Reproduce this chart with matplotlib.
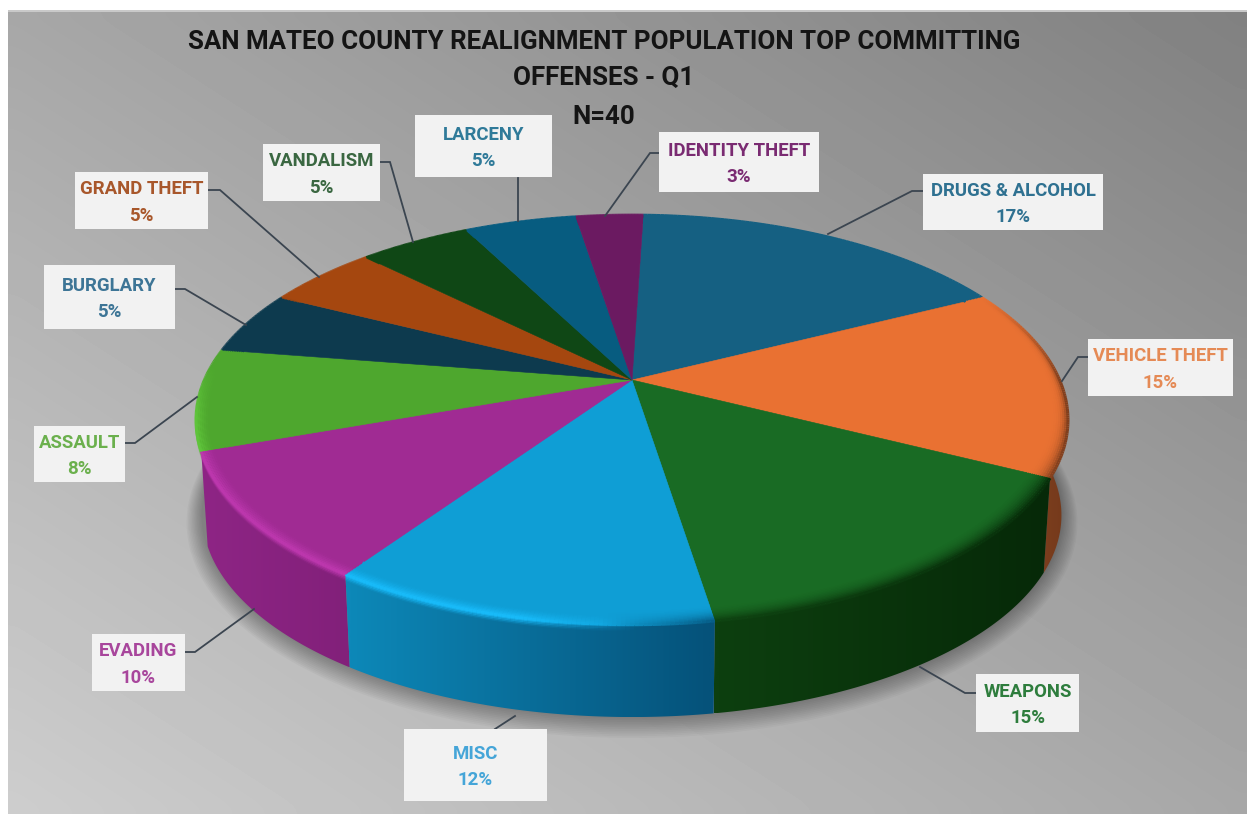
import numpy as np
import matplotlib
matplotlib.use("Agg")
import matplotlib.pyplot as plt
from matplotlib.collections import LineCollection
from matplotlib.colors import to_rgb
from matplotlib.patches import Polygon, Rectangle

# Offence shares, clockwise from twelve o'clock
offenses = ["DRUGS & ALCOHOL", "VEHICLE THEFT", "WEAPONS", "MISC", "EVADING", "ASSAULT",
            "BURGLARY", "GRAND THEFT", "VANDALISM", "LARCENY", "IDENTITY THEFT"]
percents = [17, 15, 15, 12, 10, 8, 5, 5, 5, 5, 3]
title_lines = ["SAN MATEO COUNTY REALIGNMENT POPULATION TOP COMMITTING", "OFFENSES - Q1", "N=40"]

top_colors = ["#156082", "#E97132", "#196B24", "#0F9ED5", "#A02B93", "#4EA72E",
              "#0D3A4E", "#A5470F", "#0F4715", "#075C80", "#6B1A61"]
side_start = ["#0d3a4e", "#8f4a24", "#0d3f0f", "#0d88b8", "#8e2585", "#3f8f24",
              "#0a2c3c", "#7a3a10", "#0b3510", "#054560", "#501449"]
side_end = ["#0d3a4e", "#74391b", "#062908", "#05527a", "#82207a", "#3f8f24",
            "#0a2c3c", "#7a3a10", "#0b3510", "#054560", "#501449"]
text_colors = ["#2f7191", "#e58a55", "#2e7d3d", "#45a5d8", "#a8469c", "#6bb04d",
               "#3d7596", "#a8572b", "#3a6741", "#2f7a99", "#7a2b72"]

# Callout boxes (left, top, right, bottom) and their leader polylines, in pixels
boxes = [(923, 174, 1103, 230), (1088, 339, 1233, 396), (976, 674, 1079, 732), (404, 729, 547, 801),
         (92, 634, 185, 691), (34, 426, 125, 482), (44, 265, 175, 329), (75, 172, 208, 229),
         (263, 144, 380, 201), (415, 115, 552, 177), (659, 132, 819, 192)]
leaders = [[(923, 191), (912, 191), (828, 234)], [(1088, 357), (1078, 357), (1062, 381)],
           [(976, 693), (965, 693), (920, 667)], [(495, 729), (515, 716)],
           [(185, 652), (195, 652), (254, 609)], [(125, 443), (135, 443), (197, 397)],
           [(175, 289), (185, 289), (246, 325)], [(208, 190), (220, 190), (319, 277)],
           [(380, 162), (390, 162), (413, 242)], [(518, 178), (518, 221)],
           [(659, 153), (650, 153), (605, 216)]]

W, H = 1247, 814
CX, CY = 632.0, 380.0
A, B, K = 427.6, 197.0, 0.195   # perspective disc: half width, half height, foreshortening
SHRINK, DROP = 0.985, 96.0      # lower rim relative to the upper rim
TURN = np.radians(1.8)          # first slice starts a touch past vertical
FONT = "Roboto"

fig = plt.figure(figsize=(W / 100, H / 100), dpi=100, facecolor="white")
ax = fig.add_axes([0, 0, 1, 1])
ax.set_axis_off()


def upper(theta, r=1.0):
    u, v = r * np.sin(theta), r * np.cos(theta)
    d = 1 + K * v
    return CX + A * u / d, CY - B * v / d


def lower(theta):
    x, y = upper(theta)
    return CX + SHRINK * (x - CX), CY + DROP + SHRINK * (y - CY)


def mix(a, b, t):
    return np.asarray(a) * (1 - t) + np.asarray(b) * t


# Diagonal grey backdrop, lightest at the lower left
yy, xx = np.mgrid[0:1:60j, 0:1:90j]
shade = (205 - 38 * xx - 38 * (1 - yy)) / 255
ax.imshow(shade, cmap="gray", vmin=0, vmax=1, extent=(8, W, H, 11), origin="upper",
          aspect="auto", interpolation="bicubic", zorder=0)
ax.add_patch(Rectangle((8, 10), W - 8, 1.5, fc="#c9c9c9", ec="none", zorder=0.5))

# Cumulative slice angles
edges = np.radians(np.cumsum([0] + percents) * 3.6) + TURN
mids = (edges[:-1] + edges[1:]) / 2
ring = np.linspace(0, 2 * np.pi, 400)

# Soft contact shadow built from stacked translucent outlines of the lower rim
bx, by = lower(ring)
for grow in np.linspace(16, 1, 12):
    sx = (bx - CX) * (1 + grow / 430) + CX
    sy = (by - (CY + DROP)) * (1 + grow / 240) + CY + DROP + grow * 0.3
    ax.fill(sx, sy, color="black", alpha=0.028, lw=0, zorder=1)

# Outer wall of every slice with a horizontal colour ramp, nearest slices painted last.
# Slices on the far left turn away from the viewer, so they get no wall.
order = np.argsort(-np.cos(mids))
for rank, i in enumerate(order):
    if np.sin(mids[i]) < 0 and np.cos(mids[i]) > -0.2:
        continue
    t = np.linspace(edges[i], edges[i + 1], 80)
    tx, ty = upper(t)
    lx, ly = lower(t)
    pts = np.r_[np.c_[tx, ty], np.c_[lx, ly][::-1]]
    wall = Polygon(pts, closed=True, fc="none", ec="none")
    ax.add_patch(wall)
    ramp = np.linspace(0, 1, 32)[None, :, None]
    rgb = mix(to_rgb(side_start[i]), to_rgb(side_end[i]), ramp)
    img = ax.imshow(rgb, extent=(pts[:, 0].min(), pts[:, 0].max(), pts[:, 1].max(), pts[:, 1].min()),
                    aspect="auto", interpolation="bilinear", zorder=2 + rank * 0.01)
    img.set_clip_path(wall)

# Upper faces
for i, col in enumerate(top_colors):
    t = np.linspace(edges[i], edges[i + 1], 80)
    tx, ty = upper(t)
    ax.add_patch(Polygon(np.r_[[[CX, CY]], np.c_[tx, ty]], closed=True, fc=col, ec=col, lw=0.4, zorder=3))


def light_weight(x, v):
    front = np.clip(-v / 0.25 + 0.3, 0, 1)
    return front * np.clip((640 - x) / 120, 0, 1)


def dark_weight(x, v):
    front = np.clip((0.45 - v) / 0.45, 0, 1)
    return front * np.clip((x - 600) / 120, 0, 1)


# Bevel along the rim: a highlight toward the left, a soft falloff toward the right
for i, col in enumerate(top_colors):
    base = np.array(to_rgb(col))
    bright = np.clip(base * 1.16 + 0.03, 0, 1)
    t = np.linspace(edges[i], edges[i + 1], 90)
    mid = (t[:-1] + t[1:]) / 2
    mx, _ = upper(mid)
    vm = np.cos(mid)
    xmin, xmax = upper(t)[0].min(), upper(t)[0].max()
    frac = np.clip((mx - xmin) / max(xmax - xmin, 1), 0, 1)[:, None]
    wall_rgb = mix(to_rgb(side_start[i]), to_rgb(side_end[i]), frac)
    spread = 2 + 10 * np.clip(vm + 0.5, 0, 1)
    for r in np.linspace(0.95, 1.0, 12):
        px, py = upper(t, r)
        segs = np.stack([np.c_[px[:-1], py[:-1]], np.c_[px[1:], py[1:]]], axis=1)
        lw_t = (light_weight(mx, vm) * np.clip((r - 0.97) / 0.03, 0, 1) ** 1.5 * 0.85)[:, None]
        dk_t = (dark_weight(mx, vm) * ((r - 0.95) / 0.05) ** spread * 0.9)[:, None]
        colors = mix(mix(base, bright, lw_t), wall_rgb, dk_t)
        ax.add_collection(LineCollection(segs, colors=colors, linewidths=2.2, zorder=4, capstyle="butt"))
    # highlight rolling over onto the wall just under the rim
    ux, uy = upper(t)
    dx, dy = lower(t)
    for e in np.linspace(0.0, 0.06, 5):
        px, py = ux + e * (dx - ux), uy + e * (dy - uy)
        segs = np.stack([np.c_[px[:-1], py[:-1]], np.c_[px[1:], py[1:]]], axis=1)
        w = (light_weight(mx, vm) * (1 - e / 0.07) * 0.8)[:, None]
        colors = np.c_[bright[None, :].repeat(len(mid), 0), w]
        ax.add_collection(LineCollection(segs, colors=colors, linewidths=1.6, zorder=3.5, capstyle="butt"))

# Leaders, callout boxes and their labels
for pts in leaders:
    p = np.array(pts)
    ax.plot(p[:, 0], p[:, 1], color="#3b4550", lw=1.3, solid_joinstyle="miter", zorder=5)
for name, pct, box, colr in zip(offenses, percents, boxes, text_colors):
    left, top, right, bottom = box
    ax.add_patch(Rectangle((left, top), right - left, bottom - top, fc="#f2f2f2", ec="none", zorder=6))
    ax.text((left + right) / 2, (top + bottom) / 2 + 2, f"{name}\n{pct}%", ha="center", va="center",
            color=colr, fontsize=13.4, fontweight="bold", family=FONT, linespacing=1.58, zorder=7)

for line, y in zip(title_lines, (42, 78, 117)):
    ax.text(604, y, line, ha="center", va="center", color="#141414", fontsize=18.6,
            fontweight="bold", family=FONT, zorder=7)

ax.set_xlim(0, W)
ax.set_ylim(H, 0)
fig.savefig("out.png", dpi=100, facecolor="white")
